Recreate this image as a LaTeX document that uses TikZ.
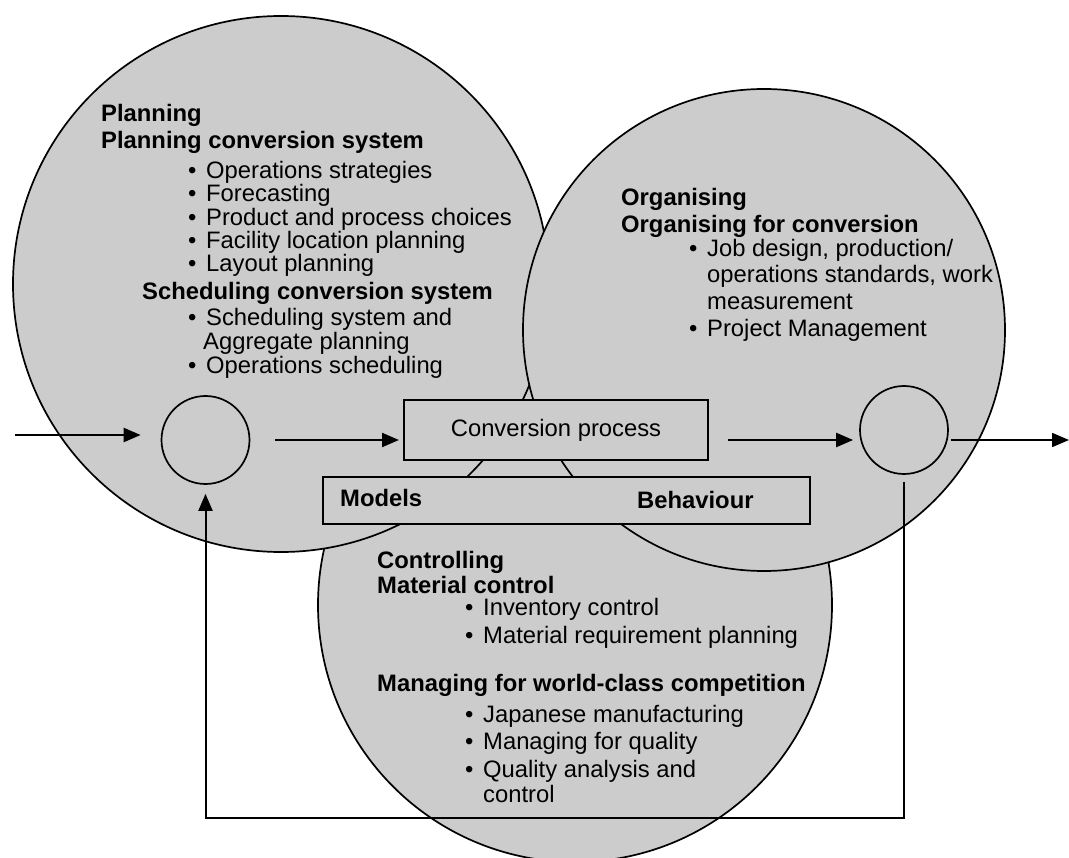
\documentclass[tikz,border=0pt]{standalone}
\usepackage{fontspec}
\setmainfont{Liberation Sans}
\usetikzlibrary{arrows.meta,calc}
\definecolor{cgray}{RGB}{204,204,204}
\newcommand{\bul}{\makebox[18pt][l]{\textbullet}}
\begin{document}
\begin{tikzpicture}[x=1pt,y=-1pt,
  bigc/.style={circle,draw=black,fill=cgray,line width=1.7pt,minimum size=#1,inner sep=0pt},
  smallc/.style={circle,draw=black,line width=1.7pt,minimum size=88pt,inner sep=0pt},
  boxn/.style={rectangle,draw=black,fill=cgray,line width=2pt,inner sep=0pt,font=\fontsize{23.8}{28}\selectfont},
  txt/.style={anchor=base west,inner sep=0pt,font=\fontsize{23.8}{28}\selectfont},
  btxt/.style={txt,font=\fontsize{23.8}{28}\selectfont\bfseries},
  tipA/.style={-{Triangle[length=17pt,width=14pt]}},
  arr/.style={line width=2.2pt,tipA},
  thinarr/.style={line width=1.8pt,tipA},
  fbline/.style={line width=2pt,tipA}]
\useasboundingbox (0,0) rectangle (1069,858);
% big circles
\node[bigc=514pt] (ctrl) at (575,605) {};
\node[bigc=536pt] (plan) at (281,284) {};
\node[bigc=482pt] (org) at (764,330) {};
% boxes
\node[boxn,minimum width=304pt,minimum height=60pt] (conv) at (556,430) {Conversion process};
\node[boxn,minimum width=487pt,minimum height=47pt] (mb) at (566.5,500.5) {};
\node[btxt] (models) at (340,507) {Models};
\node[btxt] (behav) at (637,508) {Behaviour};
% small circles
\node[smallc] (lc) at (205.5,440) {};
\node[smallc] (rc) at (904,430) {};
% coordinates
\coordinate (inp) at (15,435);
\coordinate (outp) at (1069,440);
\coordinate (fb) at (0,818);
% arrows
\draw[arr,shorten >=20pt] (inp) -- (inp -| lc.west);
\draw[arr,shorten <=25pt,shorten >=4pt] (lc.east) -- (lc.east -| conv.west);
\draw[arr,shorten <=19pt,shorten >=6pt] ([yshift=-10pt]conv.east) -- ([yshift=-10pt]conv.east -| rc.west);
\draw[thinarr,shorten <=2pt] ([yshift=-10pt]rc.east) -- ([yshift=-10pt]rc.east -| outp);
\draw[fbline] ([yshift=-7pt]rc.south) -- (rc.south |- fb) -- (lc.south |- fb) -- ([yshift=-9pt]lc.south);
% planning texts
\node[btxt] (p1) at (101,122) {Planning};
\node[btxt] (p2) at (101,149) {Planning conversion system};
\node[txt] (p3) at (188,179) {\bul Operations strategies};
\node[txt] (p4) at (188,202) {\bul Forecasting};
\node[txt] (p5) at (188,226) {\bul Product and process choices};
\node[txt] (p6) at (188,249) {\bul Facility location planning};
\node[txt] (p7) at (188,272) {\bul Layout planning};
\node[btxt] (p8) at (142,300) {Scheduling conversion system};
\node[txt] (p9) at (188,326) {\bul Scheduling system and};
\node[txt] (p10) at (203,350) {Aggregate planning};
\node[txt] (p11) at (188,374) {\bul Operations scheduling};
% organising texts
\node[btxt] (o1) at (621,206) {Organising};
\node[btxt] (o2) at (621,233) {Organising for conversion};
\node[txt] (o3) at (689,257) {\bul Job design, production/};
\node[txt] (o4) at (707,283) {operations standards, work};
\node[txt] (o5) at (707,310) {measurement};
\node[txt] (o6) at (689,337) {\bul Project Management};
% controlling texts
\node[btxt] (c1) at (377,568) {Controlling};
\node[btxt] (c2) at (377,593) {Material control};
\node[txt] (c3) at (465,615) {\bul Inventory control};
\node[txt] (c4) at (465,643) {\bul Material requirement planning};
\node[btxt] (c5) at (377,691) {Managing for world-class competition};
\node[txt] (c6) at (465,722) {\bul Japanese manufacturing};
\node[txt] (c7) at (465,749) {\bul Managing for quality};
\node[txt] (c8) at (465,777) {\bul Quality analysis and};
\node[txt] (c9) at (483,802) {control};
\end{tikzpicture}
\end{document}
